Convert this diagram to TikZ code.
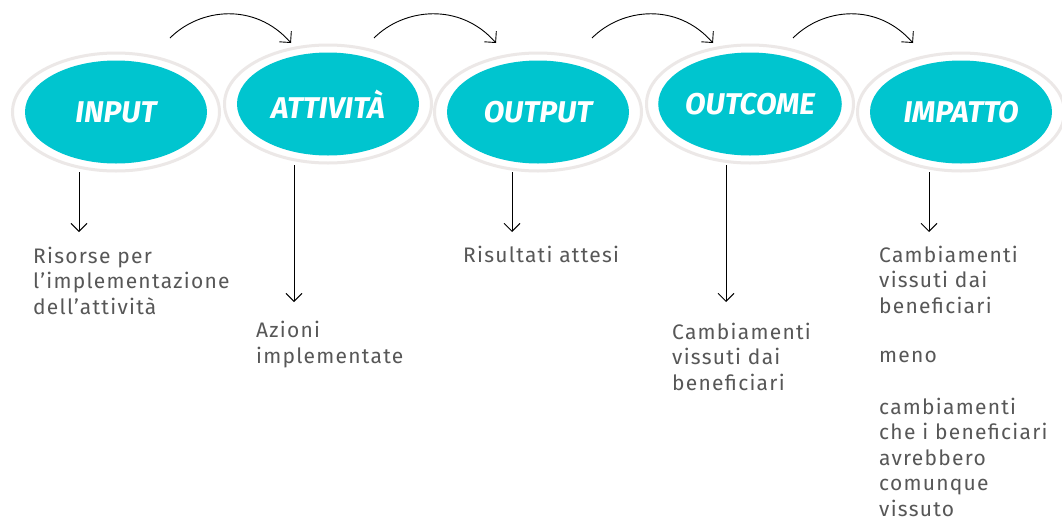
\documentclass[tikz,border=0pt]{standalone}
\usepackage{fontspec}
\setmainfont{Fira Sans}
\newfontfamily\bodyf{Fira Sans}[LetterSpace=6]
\usetikzlibrary{shapes.geometric,arrows.meta,calc}
\definecolor{teal1}{HTML}{00C5CF}
\definecolor{ringc}{HTML}{ECE8E7}
\definecolor{txt}{HTML}{575757}
\begin{document}
\begin{tikzpicture}[x=1pt,y=-1pt,
  ring/.style={ellipse, draw=ringc, line width=3pt, fill=white, minimum width=207pt, minimum height=118pt, inner sep=0pt},
  blob/.style={ellipse, fill=teal1, minimum width=182pt, minimum height=103pt, inner sep=0pt, text=white, font=\fontsize{30}{30}\selectfont\bfseries\itshape},
  arr/.style={-{Straight Barb[length=8pt,width=16pt]}, line width=0.9pt},
  lab/.style={anchor=base west, align=left, inner sep=0pt, text=txt, font=\bodyf\fontsize{21}{25.5}\selectfont}]
\useasboundingbox[fill=white] (0,0) rectangle (1062,520);
% rings
\node[ring] (r1) at (116,112) {};
\node[ring] (r2) at (328,104) {};
\node[ring] (r3) at (538,112) {};
\node[ring] (r4) at (750,104) {};
\node[ring] (r5) at (961,112) {};
% teal ellipses
\node[blob] (n1) at (116,112) {INPUT};
\node[blob] (n2) at (328,104) {ATTIVITÀ};
\node[blob] (n3) at (538,112) {OUTPUT};
\node[blob] (n4) at (750,104) {OUTCOME};
\node[blob] (n5) at (961,112) {IMPATTO};
% curved arrows
\coordinate (c1s) at (170,38); \coordinate (c1e) at (291,43);
\coordinate (c2s) at (374,38); \coordinate (c2e) at (496,43);
\coordinate (c3s) at (592,38); \coordinate (c3e) at (713,43);
\coordinate (c4s) at (793,38); \coordinate (c4e) at (913,43);
\foreach \i in {1,2,3,4}{
  \draw[arr] (c\i s) .. controls ($(c\i s)+(30,-30)$) and ($(c\i e)+(-36,-41)$) .. (c\i e);
}
% vertical arrows
\coordinate (v1s) at (79,172);  \coordinate (v1e) at (79,232);
\coordinate (v2s) at (294,165); \coordinate (v2e) at (294,302);
\coordinate (v3s) at (512,172); \coordinate (v3e) at (512,232);
\coordinate (v4s) at (726,165); \coordinate (v4e) at (726,302);
\coordinate (v5s) at (929,172); \coordinate (v5e) at (929,232);
\foreach \i in {1,...,5}{ \draw[arr] (v\i s) -- (v\i e); }
% texts (anchored at the baseline of their last line)
\node[lab] (t1) at (33,314) {Risorse per\\l’implementazione\\dell’attività};
\node[lab] (t2) at (256,363) {Azioni\\implementate};
\node[lab] (t3) at (463,262) {Risultati attesi};
\node[lab] (t4) at (672,390) {Cambiamenti\\vissuti dai\\beneficiari};
\node[lab] (t5) at (879,516) {Cambiamenti\\vissuti dai\\beneficiari\\[24pt]meno\\[26pt]cambiamenti\\che i beneficiari\\avrebbero\\comunque\\vissuto};
\end{tikzpicture}
\end{document}
